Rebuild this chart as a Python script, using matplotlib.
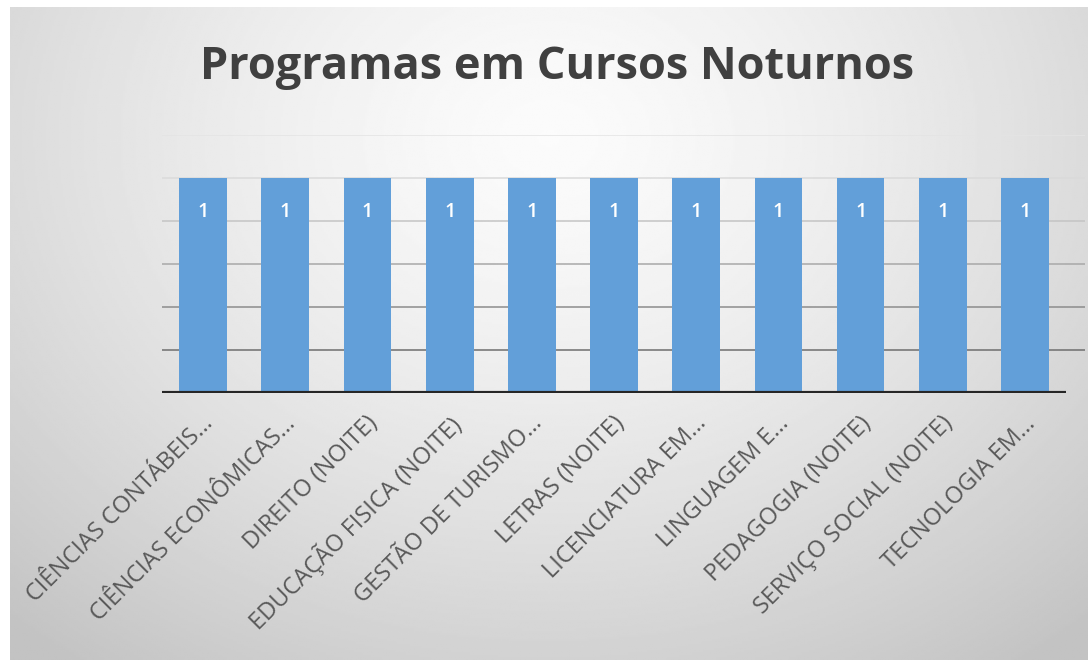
import numpy as np
import matplotlib
matplotlib.use('Agg')
import matplotlib.pyplot as plt
import matplotlib.transforms as mtransforms

plt.rcParams['font.family'] = ['Open Sans', 'DejaVu Sans']

cursos = ['CIÊNCIAS CONTÁBEIS…', 'CIÊNCIAS ECONÔMICAS…', 'DIREITO (NOITE)',
          'EDUCAÇÃO FISICA (NOITE)', 'GESTÃO DE TURISMO…', 'LETRAS (NOITE)',
          'LICENCIATURA EM…', 'LINGUAGEM E…', 'PEDAGOGIA (NOITE)',
          'SERVIÇO SOCIAL (NOITE)', 'TECNOLOGIA EM…']
programas = [1, 1, 1, 1, 1, 1, 1, 1, 1, 1, 1]
yticks = [0.2, 0.4, 0.6, 0.8, 1.0, 1.2]
grid_colors = ['#6e6e6e', '#8c8c8c', '#a8a8a8', '#c4c4c4', '#dadada', '#e4e4e4']

W, H = 1088, 660
fig = plt.figure(figsize=(W / 100, H / 100), dpi=100)

# radial gradient background
bg = fig.add_axes([10 / W, 0, 1 - 10 / W, 1 - 7 / H])
yy, xx = np.mgrid[0:1:300j, 0:1:500j]
r = np.sqrt(((xx - 0.5) / 0.75) ** 2 + ((yy - 0.2) / 1.0) ** 2)
shade = 0.985 - 0.22 * np.clip(r, 0, 1) ** 1.4
bg.imshow(shade, cmap='gray', vmin=0, vmax=1, aspect='auto', extent=[0, 1, 1, 0])
bg.axis('off')

ax = fig.add_axes([162 / W, 1 - 393 / H, (1085 - 162) / W, (393 - 135) / H])
ax.patch.set_alpha(0)
x = np.arange(len(cursos))
for yv, c in zip(yticks, grid_colors):
    ax.axhline(yv, color=c, lw=1.1, zorder=1)
bars = ax.bar(x, programas, width=0.58, color='#629fd9', zorder=2)
ax.hlines(0, -0.5, len(cursos) - 0.5, color='#262626', lw=3, zorder=3)
for b, v in zip(bars, programas):
    ax.text(b.get_x() + b.get_width() / 2, v - 0.16, f'{v}', ha='center', va='center',
            color='white', fontsize=14, fontweight='semibold', zorder=4)

ax.set_xlim(-0.5, len(cursos) - 0.5 + 0.23)
ax.set_ylim(0, 1.2)
ax.set_yticks([])
ax.set_xticks(x)
ax.set_xticklabels(cursos, rotation=45, ha='right', va='top', rotation_mode='anchor',
                   fontsize=17, color='#595959')
ax.tick_params(axis='x', length=0, pad=4)
shift = mtransforms.ScaledTranslation(-2 / 100, -13 / 100, fig.dpi_scale_trans)
for lbl in ax.get_xticklabels():
    lbl.set_transform(lbl.get_transform() + shift)
for s in ax.spines.values():
    s.set_visible(False)

fig.text(557 / W, 1 - 67 / H, 'Programas em Cursos Noturnos', ha='center', va='center',
         fontsize=32.5, fontweight='bold', color='#404040')

fig.savefig('out.png', dpi=100)
